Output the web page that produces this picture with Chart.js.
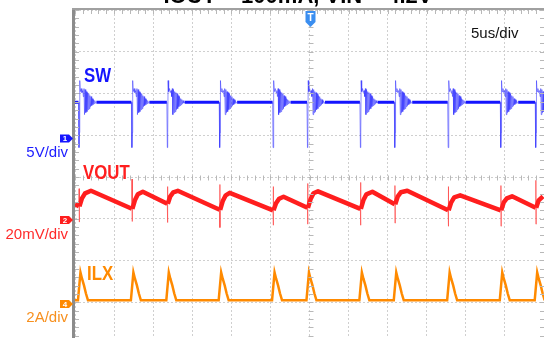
<!DOCTYPE html>
<html>
<head>
<meta charset="utf-8">
<script src="https://cdn.jsdelivr.net/npm/chart.js@4.4.1/dist/chart.umd.min.js"></script>
<style>
  html, body { margin: 0; padding: 0; background: #fff; overflow: hidden; }
  canvas { display: block; }
</style>
</head>
<body>
<canvas id="scope" width="544" height="344"></canvas>
<script>
// horizontal: 5us/div, 12 divisions visible
const timePerDiv = 5;
const timeSpan = 60;
const trigTime = 30;

// switching events (us)
const edgeTimes = [0.51, 7.28, 11.81, 18.51, 25.34, 29.74, 36.51, 40.91, 47.74, 54.47, 58.94];

// channels: SW (ch1), VOUT (ch2), ILX (ch4)
const chNames = ['SW', 'VOUT', 'ILX'];
const chScaleText = ['5V/div', '20mV/div', '2A/div'];
const chNumbers = ['1', '2', '4'];
const chPerDiv = [5, 20, 2];
const chOffset = [0.92, -1.03, -3.04];   // ground marker, in divisions from centre
const chColors = ['#1414ff', '#ff1e1e', '#ff8a00'];
const chTextColors = ['#1c1cff', '#ff2a2a', '#f7901e'];

// SW: flat level (V) and the ringing seen at every edge (dt in us, value in V)
const swLevel = 4.35;
const swRingDt = [-0.06, 0, 0.05, 0.10, 0.17, 0.28, 0.38, 0.49, 0.56, 0.64, 0.71, 0.79, 0.87, 0.94, 1.02,
  1.10, 1.17, 1.25, 1.33, 1.40, 1.48, 1.56, 1.63, 1.71, 1.79, 1.86, 1.94, 2.02, 2.12, 2.23];
const swRingV = [4.35, -1.08, 0.72, 6.95, 5.63, 5.99, 5.51, 5.75, 5.03, 5.99, 2.87, 5.87, 3.11, 5.63, 3.23,
  5.51, 3.47, 5.39, 3.59, 5.15, 3.83, 5.03, 3.95, 4.79, 4.07, 4.67, 4.19, 4.55, 4.25, 4.35];

// VOUT ripple (us, mV)
const voutTime = [0.00,
  0.51, 0.53, 0.55, 0.57, 0.89, 1.28, 2.04,
  7.28, 7.30, 7.32, 7.34, 7.66, 8.04, 8.68,
  11.81, 11.83, 11.85, 11.87, 12.19, 12.57, 13.15,
  18.51, 18.53, 18.55, 18.57, 18.89, 19.28, 19.79,
  25.34, 25.36, 25.38, 25.40, 25.72, 26.11, 26.68,
  29.74, 29.76, 29.78, 29.80, 30.13, 30.51, 31.09,
  36.51, 36.53, 36.55, 36.57, 36.89, 37.28, 38.04,
  40.91, 40.93, 40.95, 40.97, 41.30, 41.68, 42.51,
  47.74, 47.76, 47.78, 47.80, 48.13, 48.51, 49.28,
  54.47, 54.49, 54.51, 54.53, 54.85, 55.24, 55.91,
  58.94, 58.96, 58.98, 59.00, 59.32, 59.87];
const voutMv = [7.52,
  6.56, 15.0, -1.0, 6.56, 10.39, 12.79, 13.99,
  5.36, 19.6, -0.7, 5.36, 9.44, 12.31, 13.51,
  7.76, 16.0, -1.2, 7.76, 11.35, 13.27, 13.99,
  4.89, 17.0, -3.6, 4.89, 8.96, 11.83, 13.03,
  4.65, 16.0, -2.5, 4.65, 8.00, 10.15, 11.11,
  5.84, 17.5, -2.0, 5.84, 9.92, 12.79, 13.75,
  5.36, 18.0, -2.5, 5.36, 9.44, 12.31, 13.51,
  7.52, 16.5, -1.5, 7.52, 11.35, 13.27, 13.99,
  4.65, 16.0, -3.0, 4.65, 8.48, 10.87, 11.83,
  4.65, 16.5, -3.0, 4.65, 8.48, 10.39, 11.35,
  5.84, 19.0, -2.0, 5.84, 9.44, 11.35];

// ILX: baseline (A) and the triangular pulse at every edge (dt in us, value in A)
const ilxBase = 0.17;
const ilxPulseDt = [-0.13, 0.19, 0.38, 0.64, 0.89, 1.15];
const ilxPulseA = [0.17, 1.51, 1.22, 0.89, 0.50, 0.17];

const toDiv = (ch, v) => chOffset[ch] + v / chPerDiv[ch];

const swPts = [{ x: 0, y: toDiv(0, swLevel) }];
edgeTimes.forEach(t0 => swRingDt.forEach((dt, i) => swPts.push({ x: t0 + dt, y: toDiv(0, swRingV[i]) })));

const voutPts = voutTime.map((t, i) => ({ x: t, y: toDiv(1, voutMv[i]) }));

const ilxPts = [{ x: 0, y: toDiv(2, ilxBase) }];
edgeTimes.forEach(t0 => ilxPulseDt.forEach((dt, i) => ilxPts.push({ x: t0 + dt, y: toDiv(2, ilxPulseA[i]) })));

const narrow = (ctx, px) => Math.abs(ctx.p1.x - ctx.p0.x) < px;

const scopeDecor = {
  id: 'scopeDecor',
  afterDraw(chart) {
    const { ctx, chartArea: a, scales: { x, y } } = chart;
    ctx.save();

    // minor ticks: borders and centre cross
    ctx.strokeStyle = '#b8b8b8';
    ctx.lineWidth = 1;
    ctx.beginPath();
    for (let t = 0; t <= timeSpan + 0.001; t += timePerDiv / 5) {
      const px = Math.round(x.getPixelForValue(t)) + 0.5;
      ctx.moveTo(px, a.top); ctx.lineTo(px, a.top + 4);
      const cy = Math.round(y.getPixelForValue(0)) + 0.5;
      ctx.moveTo(px, cy - 2); ctx.lineTo(px, cy + 3);
    }
    for (let d = -4; d <= 4.001; d += 0.2) {
      const py = Math.round(y.getPixelForValue(d)) + 0.5;
      ctx.moveTo(a.left, py); ctx.lineTo(a.left + 4, py);
      ctx.moveTo(a.right - 4, py); ctx.lineTo(a.right, py);
      const cx = Math.round(x.getPixelForValue(trigTime)) + 0.5;
      ctx.moveTo(cx - 2, py); ctx.lineTo(cx + 3, py);
    }
    ctx.stroke();

    // frame
    ctx.fillStyle = '#8c8c8c';
    ctx.fillRect(a.left - 3, a.top - 2, 3, a.bottom - a.top + 2);
    ctx.fillStyle = '#a0a0a0';
    ctx.fillRect(a.left - 3, a.top - 2, a.right - a.left + 3, 2);

    // clipped title at the very top
    ctx.fillStyle = '#000';
    ctx.font = 'bold 22px "Liberation Sans", Arial, sans-serif';
    ctx.textAlign = 'center';
    ctx.textBaseline = 'alphabetic';
    ctx.fillText('IOUT = 100mA, VIN = 4.2V', 298, 3);

    // time base
    ctx.textAlign = 'left';
    ctx.font = '15px "Liberation Sans", Arial, sans-serif';
    ctx.fillStyle = '#111';
    ctx.fillText(timePerDiv + 'us/div', 471, 38);

    // trigger marker
    const tx = Math.round(x.getPixelForValue(trigTime)) + 0.5;
    ctx.fillStyle = '#3a8ef0';
    ctx.beginPath();
    ctx.moveTo(tx - 5, 11); ctx.lineTo(tx + 5, 11); ctx.lineTo(tx + 5, 22);
    ctx.lineTo(tx, 27); ctx.lineTo(tx - 5, 22); ctx.closePath();
    ctx.fill();
    ctx.fillStyle = '#fff';
    ctx.font = 'bold 10px "Liberation Sans", Arial, sans-serif';
    ctx.textAlign = 'center';
    ctx.fillText('T', tx, 21);

    // channel ground markers and scale text
    chNames.forEach((name, i) => {
      const gy = y.getPixelForValue(chOffset[i]);
      ctx.fillStyle = chColors[i];
      ctx.beginPath();
      ctx.moveTo(60, gy - 4); ctx.lineTo(69, gy - 4); ctx.lineTo(73, gy);
      ctx.lineTo(69, gy + 4); ctx.lineTo(60, gy + 4); ctx.closePath();
      ctx.fill();
      ctx.fillStyle = '#fff';
      ctx.font = 'bold 8px "Liberation Sans", Arial, sans-serif';
      ctx.textAlign = 'center';
      ctx.textBaseline = 'middle';
      ctx.fillText(chNumbers[i], 65, gy + 0.5);

      ctx.textBaseline = 'alphabetic';
      ctx.textAlign = 'right';
      ctx.fillStyle = chTextColors[i];
      ctx.font = '15px "Liberation Sans", Arial, sans-serif';
      ctx.fillText(chScaleText[i], 68, gy + 18.5);
    });

    // trace names, condensed bold
    const namePos = [[84, 81.5], [83, 179], [87, 280]];
    chNames.forEach((name, i) => {
      ctx.save();
      ctx.translate(namePos[i][0], namePos[i][1]);
      ctx.scale(0.8, 1);
      ctx.fillStyle = chColors[i];
      ctx.font = 'bold 21px "Liberation Sans", Arial, sans-serif';
      ctx.textAlign = 'left';
      ctx.fillText(name, 0, 0);
      ctx.restore();
    });

    ctx.restore();
  }
};

new Chart(document.getElementById('scope'), {
  type: 'line',
  data: {
    datasets: [
      {
        label: 'SW',
        data: swPts,
        borderColor: chColors[0],
        borderWidth: 3,
        pointRadius: 0,
        tension: 0,
        segment: {
          borderWidth: ctx => narrow(ctx, 3) ? 1 : 3,
          borderColor: ctx => narrow(ctx, 3) ? 'rgba(50,50,255,0.55)' : chColors[0]
        }
      },
      {
        label: 'VOUT',
        data: voutPts,
        borderColor: chColors[1],
        borderWidth: 4.5,
        borderJoinStyle: 'round',
        pointRadius: 0,
        tension: 0,
        segment: {
          borderWidth: ctx => narrow(ctx, 1) ? 1 : 4.5,
          borderColor: ctx => narrow(ctx, 1) ? 'rgba(255,70,70,0.7)' : chColors[1]
        }
      },
      {
        label: 'ILX',
        data: ilxPts,
        borderColor: chColors[2],
        borderWidth: 2.5,
        pointRadius: 0,
        tension: 0
      }
    ]
  },
  options: {
    responsive: false,
    animation: false,
    events: [],
    layout: { padding: { left: 75, top: 10, right: 0, bottom: 0 } },
    plugins: { legend: { display: false }, tooltip: { enabled: false } },
    scales: {
      x: {
        type: 'linear',
        min: 0,
        max: timeSpan,
        ticks: { display: false, stepSize: timePerDiv },
        grid: { color: '#cfcfcf', lineWidth: 1, drawTicks: false },
        border: { display: false, dash: [2, 2] }
      },
      y: {
        type: 'linear',
        min: -4,
        max: 4,
        ticks: { display: false, stepSize: 1 },
        grid: { color: '#cfcfcf', lineWidth: 1, drawTicks: false },
        border: { display: false, dash: [2, 2] }
      }
    }
  },
  plugins: [scopeDecor]
});
</script>
</body>
</html>
